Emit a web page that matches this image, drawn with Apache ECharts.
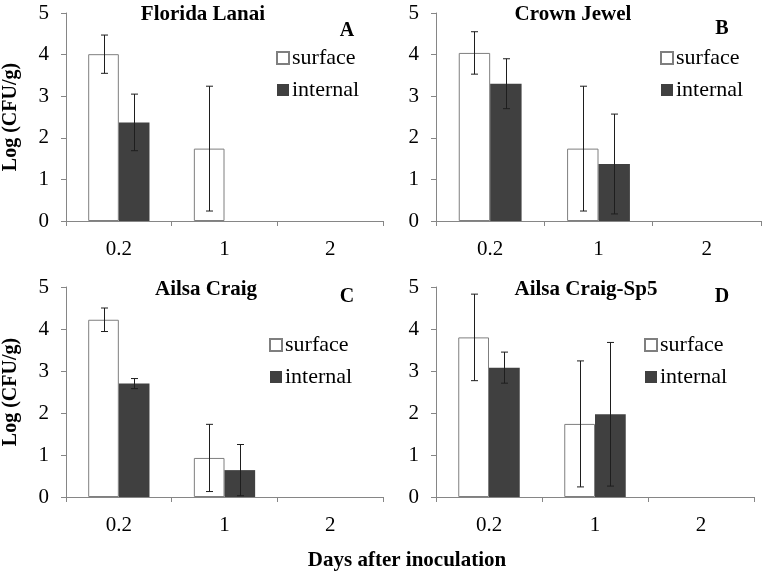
<!DOCTYPE html>
<html>
<head>
<meta charset="utf-8">
<script src="https://cdn.jsdelivr.net/npm/echarts@6/dist/echarts.min.js"></script>
<style>
html,body{margin:0;padding:0;background:#fff;}
#chart{width:766px;height:576px;}
</style>
</head>
<body>
<div id="chart"></div>
<script>
// ---- data ----
const categories = ['0.2', '1', '2'];
const panelNames = ['Florida Lanai', 'Crown Jewel', 'Ailsa Craig', 'Ailsa Craig-Sp5'];
const panelLetters = ['A', 'B', 'C', 'D'];
const seriesNames = ['surface', 'internal'];

const surfaceA = [4.01, 1.74, 0];
const surfaceErrA = [0.46, 1.50, null];
const internalA = [2.37, 0, 0];
const internalErrA = [0.68, null, null];

const surfaceB = [4.04, 1.74, 0];
const surfaceErrB = [0.51, 1.50, null];
const internalB = [3.30, 1.37, 0];
const internalErrB = [0.60, 1.20, null];

const surfaceC = [4.22, 0.93, 0];
const surfaceErrC = [0.28, 0.80, null];
const internalC = [2.70, 0.64, 0];
const internalErrC = [0.12, 0.61, null];

const surfaceD = [3.80, 1.74, 0];
const surfaceErrD = [1.03, 1.50, null];
const internalD = [3.08, 1.97, 0];
const internalErrD = [0.37, 1.71, null];

const yTicks = [0, 1, 2, 3, 4, 5];

const panels = [
  {s: surfaceA, se: surfaceErrA, i: internalA, ie: internalErrA},
  {s: surfaceB, se: surfaceErrB, i: internalB, ie: internalErrB},
  {s: surfaceC, se: surfaceErrC, i: internalC, ie: internalErrC},
  {s: surfaceD, se: surfaceErrD, i: internalD, ie: internalErrD}
];

// ---- layout / style ----
const grids = [
  {left: 63, top: 13, width: 320, height: 208},
  {left: 436, top: 13, width: 325, height: 208},
  {left: 63, top: 287, width: 320, height: 210},
  {left: 436, top: 287, width: 318, height: 210}
];
const titlePos = [[203, 4], [573, 4], [206, 279], [586, 279]];
const letterPos = [[347, 21], [722, 19], [347, 287], [722, 287]];
const legendPos = [[276, 47], [660, 47], [269, 334], [644, 334]];
const BAR_FRAC = 0.29;
const FONT = 'Liberation Serif';
const AXIS_COLOR = '#868686';

function errSeries(idx, values, errs, sign) {
  const data = [];
  values.forEach((v, k) => { if (errs[k] != null) data.push([k, v, errs[k]]); });
  return {
    type: 'custom', name: 'err', xAxisIndex: idx, yAxisIndex: idx, z: 10,
    silent: true,
    renderItem: function (params, api) {
      const k = api.value(0), v = api.value(1), e = api.value(2);
      const bw = api.size([1, 0])[0];
      const off = sign * bw * BAR_FRAC / 2;
      const top = api.coord([k, v + e]);
      const bot = api.coord([k, Math.max(0, v - e)]);
      const x = Math.round(top[0] + off) + 0.5;
      const cap = 3.5;
      const st = {stroke: '#1e1e1e', lineWidth: 1};
      return {type: 'group', children: [
        {type: 'line', shape: {x1: x, y1: top[1], x2: x, y2: bot[1]}, style: st},
        {type: 'line', shape: {x1: x - cap, y1: top[1], x2: x + cap, y2: top[1]}, style: st},
        {type: 'line', shape: {x1: x - cap, y1: bot[1], x2: x + cap, y2: bot[1]}, style: st}
      ]};
    },
    data: data
  };
}

const nz = v => (v === 0 ? null : v);

const option = {
  animation: false,
  backgroundColor: '#fff',
  grid: grids.map(g => Object.assign({containLabel: false}, g)),
  title: [],
  legend: [],
  xAxis: [],
  yAxis: [],
  series: []
};

panels.forEach((p, idx) => {
  option.xAxis.push({
    type: 'category', gridIndex: idx, data: categories,
    axisLine: {show: true, lineStyle: {color: AXIS_COLOR, width: 1}},
    axisTick: {show: true, length: 5, lineStyle: {color: AXIS_COLOR}},
    axisLabel: {fontFamily: FONT, fontSize: 21, color: '#000', margin: 18},
    splitLine: {show: false}
  });
  option.yAxis.push({
    type: 'value', gridIndex: idx, min: yTicks[0], max: yTicks[yTicks.length - 1], interval: 1,
    axisLine: {show: true, lineStyle: {color: AXIS_COLOR, width: 1}},
    axisTick: {show: true, length: 5, lineStyle: {color: AXIS_COLOR}},
    axisLabel: {fontFamily: FONT, fontSize: 21, color: '#000', margin: 17},
    splitLine: {show: false},
    name: (idx % 2 === 0) ? 'Log (CFU/g)' : '',
    nameLocation: 'middle', nameGap: 45,
    nameTextStyle: {fontFamily: FONT, fontSize: 20, fontWeight: 'bold', color: '#000'}
  });
  option.series.push({
    type: 'bar', name: seriesNames[0], xAxisIndex: idx, yAxisIndex: idx,
    data: p.s.map(nz), barWidth: (BAR_FRAC * 100) + '%', barGap: '0%',
    itemStyle: {color: '#ffffff', borderColor: '#7f7f7f', borderWidth: 1}
  });
  option.series.push({
    type: 'bar', name: seriesNames[1], xAxisIndex: idx, yAxisIndex: idx,
    data: p.i.map(nz), barWidth: (BAR_FRAC * 100) + '%', barGap: '0%',
    itemStyle: {color: '#404040', borderColor: '#404040', borderWidth: 0}
  });
  option.series.push(errSeries(idx, p.s, p.se, -1));
  option.series.push(errSeries(idx, p.i, p.ie, 1));

  option.title.push({
    text: panelNames[idx], left: titlePos[idx][0], top: titlePos[idx][1], textAlign: 'center',
    textStyle: {fontFamily: FONT, fontSize: 21, fontWeight: 'bold', color: '#000'}, padding: 0
  });
  option.title.push({
    text: panelLetters[idx], left: letterPos[idx][0], top: letterPos[idx][1], textAlign: 'center',
    textStyle: {fontFamily: FONT, fontSize: 20, fontWeight: 'bold', color: '#000'}, padding: 0
  });
  option.legend.push({
    data: seriesNames.map(n => ({name: n, icon: 'rect'})),
    orient: 'vertical', left: legendPos[idx][0], top: legendPos[idx][1],
    itemWidth: 12, itemHeight: 12, itemGap: 10, padding: 0,
    selectedMode: false,
    textStyle: {fontFamily: FONT, fontSize: 22, color: '#000', padding: [0, 0, 0, -2]}
  });
});

option.title.push({
  text: 'Days after inoculation', left: 407, top: 550, textAlign: 'center', padding: 0,
  textStyle: {fontFamily: FONT, fontSize: 21, fontWeight: 'bold', color: '#000'}
});

const chart = echarts.init(document.getElementById('chart'), null, {renderer: 'canvas'});
chart.setOption(option);
</script>
</body>
</html>
